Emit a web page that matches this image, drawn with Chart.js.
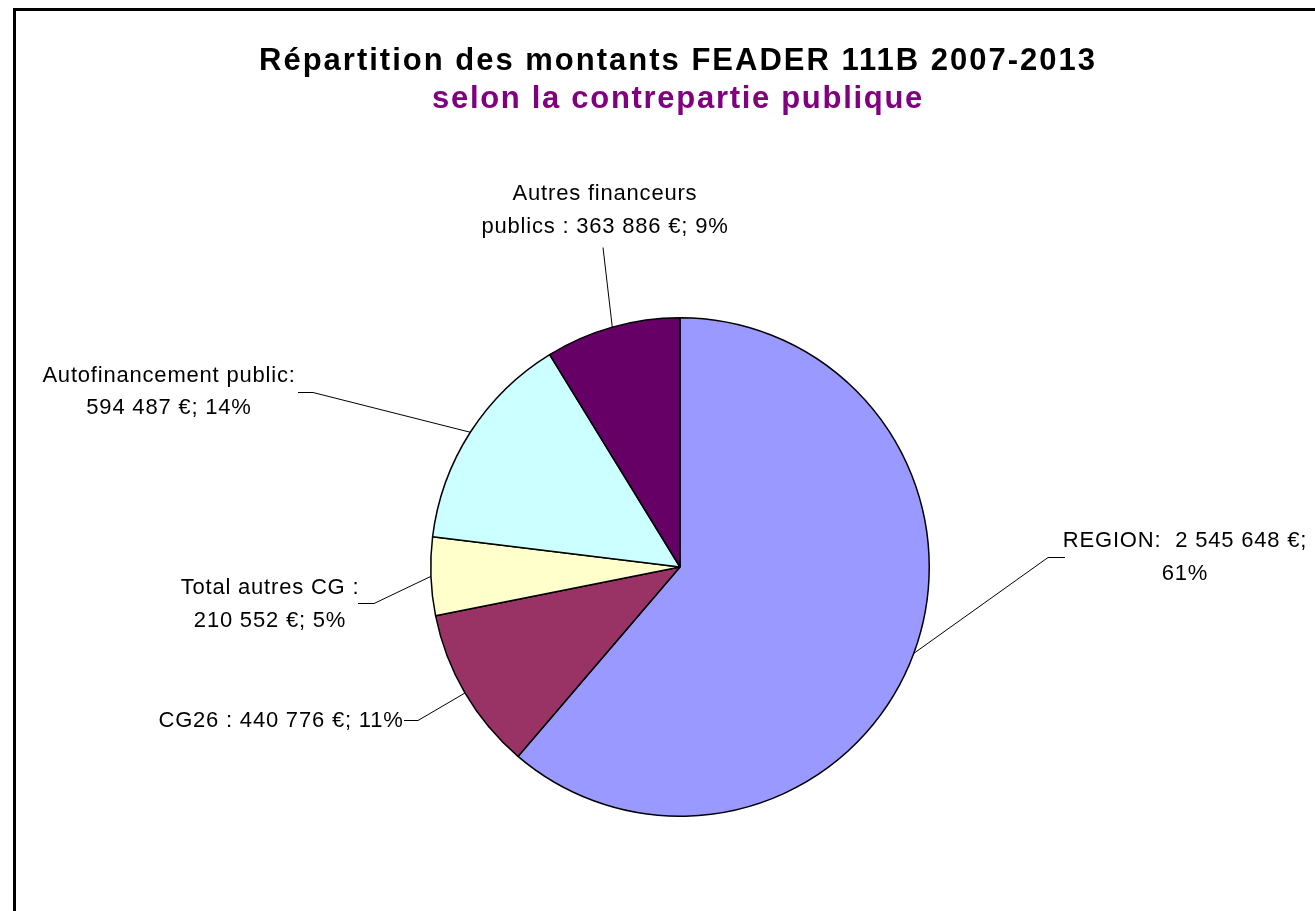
<!DOCTYPE html>
<html>
<head>
<meta charset="utf-8">
<script src="https://cdn.jsdelivr.net/npm/chart.js@4.4.1/dist/chart.umd.min.js"></script>
<style>
html,body{margin:0;padding:0;background:#fff;}
#wrap{width:1315px;height:911px;position:relative;}
</style>
</head>
<body>
<div id="wrap"><canvas id="c"></canvas></div>
<script>
const categories = ['REGION', 'CG26', 'Total autres CG', 'Autofinancement public', 'Autres financeurs publics'];
const values = [2545648, 440776, 210552, 594487, 363886];
const percents = ['61%', '11%', '5%', '14%', '9%'];
const amounts = ['2 545 648 €', '440 776 €', '210 552 €', '594 487 €', '363 886 €'];
const labelLines = [
  ['REGION:  2 545 648 €;', '61%'],
  ['CG26 : 440 776 €; 11%'],
  ['Total autres CG :', '210 552 €; 5%'],
  ['Autofinancement public:', '594 487 €; 14%'],
  ['Autres financeurs', 'publics : 363 886 €; 9%']
];
const colors = ['#9999FF', '#993366', '#FFFFCC', '#CCFFFF', '#660066'];
const titleText = 'Répartition des montants FEADER 111B 2007-2013';
const subtitleText = 'selon la contrepartie publique';

// label layout: text centre x, first baseline y, line gap, leader stub [x1,y1,x2,y2] (x2,y2 connects to slice)
const labelLayout = [
  {x: 1185, y: 547, gap: 33, stub: [1065, 557, 1048, 557]},
  {x: 281, y: 727, gap: 33, stub: [404, 720, 418, 720]},
  {x: 270, y: 594, gap: 33, stub: [358, 603, 374, 603]},
  {x: 169, y: 382, gap: 32, stub: [298, 392, 313, 392]},
  {x: 605, y: 200, gap: 33, stub: [603, 247, 603, 247]}
];

const FONT = '"Liberation Sans", Arial, sans-serif';

const decor = {
  id: 'decor',
  beforeDraw(chart) {
    const ctx = chart.ctx;
    ctx.save();
    ctx.fillStyle = '#fff';
    ctx.fillRect(0, 0, chart.width, chart.height);
    ctx.restore();
  },
  afterDraw(chart) {
    const ctx = chart.ctx;
    ctx.save();
    // frame
    ctx.strokeStyle = '#000';
    ctx.lineWidth = 3;
    ctx.beginPath();
    ctx.moveTo(14.5, chart.height + 2);
    ctx.lineTo(14.5, 9.5);
    ctx.lineTo(chart.width + 2, 9.5);
    ctx.stroke();
    // titles
    ctx.textAlign = 'center';
    ctx.textBaseline = 'alphabetic';
    ctx.letterSpacing = '2px';
    ctx.fillStyle = '#000';
    ctx.font = 'bold 31px ' + FONT;
    ctx.fillText(titleText, 678, 70);
    ctx.fillStyle = '#800080';
    ctx.letterSpacing = '1.7px';
    ctx.fillText(subtitleText, 678, 108);
    // labels + leaders
    const meta = chart.getDatasetMeta(0);
    ctx.font = '22px ' + FONT;
    ctx.letterSpacing = '0.8px';
    ctx.fillStyle = '#000';
    meta.data.forEach((arc, i) => {
      const L = labelLayout[i];
      labelLines[i].forEach((t, k) => ctx.fillText(t, L.x, L.y + k * L.gap));
      const mid = (arc.startAngle + arc.endAngle) / 2;
      const px = arc.x + Math.cos(mid) * arc.outerRadius;
      const py = arc.y + Math.sin(mid) * arc.outerRadius;
      ctx.strokeStyle = '#000';
      ctx.lineWidth = 1;
      ctx.beginPath();
      ctx.moveTo(L.stub[0], L.stub[1] + 0.5);
      ctx.lineTo(L.stub[2], L.stub[3] + 0.5);
      ctx.lineTo(px, py);
      ctx.stroke();
    });
    ctx.restore();
  }
};

new Chart(document.getElementById('c'), {
  type: 'pie',
  data: {
    labels: categories,
    datasets: [{
      data: values,
      backgroundColor: colors,
      borderColor: '#000',
      borderWidth: 1.5
    }]
  },
  options: {
    responsive: true,
    maintainAspectRatio: false,
    animation: false,
    layout: {padding: {left: 430, right: 385, top: 317, bottom: 94}},
    plugins: {
      legend: {display: false},
      title: {display: false},
      tooltip: {enabled: false}
    }
  },
  plugins: [decor]
});
</script>
</body>
</html>
